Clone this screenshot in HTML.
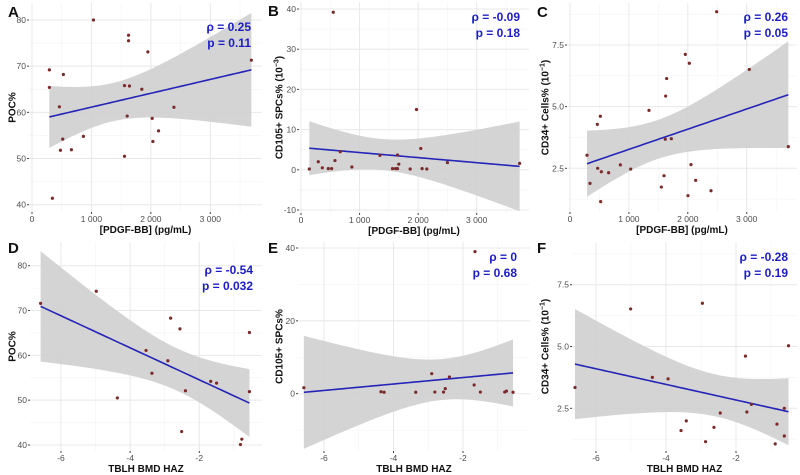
<!DOCTYPE html>
<html><head><meta charset="utf-8">
<style>
html,body{margin:0;padding:0;background:#fff;}
svg{display:block;font-family:"Liberation Sans",Arial,sans-serif;}
.tick{font-size:8.5px;fill:#4d4d4d;}
.ttl{font-size:10px;font-weight:bold;fill:#111;}
.ann{font-size:12px;font-weight:bold;fill:#1c1cc4;}
.lbl{font-size:15px;font-weight:bold;fill:#111;}
</style></head>
<body>
<svg id="fig" width="800" height="475" viewBox="0 0 800 475" xmlns="http://www.w3.org/2000/svg"></svg>
<script>
// Panel A: PDGF-BB vs POC%
const aX=[1034,1624,1624,1949,3691,292,528,292,1556,1640,1848,461,2388,1601,2022,2129,517,865,2034,478,663,1556,343];
const aY=[80,76.7,75.5,73.1,71.3,69.2,68.2,65.4,65.8,65.7,65.0,61.2,61.1,59.2,58.7,56.0,54.2,54.8,53.7,51.8,51.9,50.5,41.4];
// Panel B: PDGF-BB vs CD105+ SPCs%
const bX=[551,1972,670,2045,1648,1347,295,580,364,142,466,523,869,1670,1562,1614,1648,1864,2068,2148,2500,3733];
const bY=[39.2,15.0,4.5,5.3,3.7,3.6,2.0,2.3,0.5,0.2,0.3,0.3,0.7,1.4,0.3,0.3,0.3,0.2,0.3,0.2,1.8,1.6];
// Panel C: PDGF-BB vs CD34+ cells%
const cX=[2490,1958,2026,3044,1641,1624,1341,515,464,1618,1720,3707,289,2054,855,470,1030,532,656,1596,2134,340,1551,2394,2003,521];
const cY=[8.85,7.12,6.76,6.51,6.14,5.43,4.85,4.61,4.28,3.68,3.70,3.38,3.03,2.65,2.64,2.5,2.47,2.36,2.32,2.20,2.01,1.89,1.74,1.59,1.39,1.15];
// Panel D: TBLH BMD HAZ vs POC%
const dX=[-6.59,-4.98,-2.83,-2.56,-0.55,-3.54,-2.91,-3.37,-1.67,-1.50,-2.40,-0.55,-4.37,-2.51,-0.77,-0.81];
const dY=[71.6,74.3,68.3,65.9,65.1,61.1,58.8,56.0,54.2,53.8,52.1,51.9,50.5,43.0,41.3,40.1];
// Panel E: TBLH BMD HAZ vs CD105+ SPCs%
const eX=[-1.655,-6.58,-4.36,-4.27,-3.36,-2.90,-2.81,-2.56,-2.51,-2.39,-1.68,-1.50,-0.80,-0.75,-0.56];
const eY=[39.0,1.65,0.55,0.4,0.4,5.5,0.45,0.45,1.4,4.6,2.4,0.45,0.45,0.7,0.4];
// Panel F: TBLH BMD HAZ vs CD34+ cells%
const fX=[-6.6,-5.01,-2.96,-0.50,-1.73,-4.39,-3.94,-1.56,-0.62,-2.45,-1.69,-3.42,-0.83,-2.63,-3.57,-0.62,-2.87,-0.88];
const fY=[3.34,6.52,6.75,5.03,4.61,3.75,3.69,2.66,2.5,2.31,2.35,1.99,1.86,1.73,1.60,1.38,1.15,1.06];
// Tick labels
const pdgfTicks=[0,1000,2000,3000];
const pdgfTickLabels=["0","1 000","2 000","3 000"];
const hazTicks=[-6,-4,-2];
const hazTickLabels=["-6","-4","-2"];
const pocTicks=[40,50,60,70,80];
const cd105bTicks=[-10,0,10,20,30,40];
const cd105eTicks=[0,20,40];
const cd34Ticks=[2.5,5.0,7.5];
const cd34TickLabels=["2.5","5.0","7.5"];
const rhoLabels=["ρ = 0.25","ρ = -0.09","ρ = 0.26","ρ = -0.54","ρ = 0","ρ = -0.28"];
const pLabels=["p = 0.11","p = 0.18","p = 0.05","p = 0.032","p = 0.68","p = 0.19"];

const NS="http://www.w3.org/2000/svg";
const svg=document.getElementById('fig');
function mk(tag,attrs,parent){const e=document.createElementNS(NS,tag);for(const k in attrs)e.setAttribute(k,attrs[k]);(parent||svg).appendChild(e);return e;}
function lin(d0,p0,d1,p1){return v=>p0+(v-d0)*(p1-p0)/(d1-d0);}
function tcrit(df){return 1.96+2.4/df+1.8/(df*df);}

const panels=[
 {id:'a',L:'A',lx:8,ly:17,X:aX,Y:aY,rect:[29,262,3,212],sx:lin(0,32,3000,210.3),sy:lin(80,20,40,204.7),
  xt:pdgfTicks,xl:pdgfTickLabels,xm:[500,1500,2500,3500],yt:pocTicks,yl:pocTicks.map(String),ym:[45,55,65,75],
  xt_title:'[PDGF-BB] (pg/mL)',yt_title:'POC%',sup:null,ytx:12,ar:251,ay:27},
 {id:'b',L:'B',lx:268,ly:16,X:bX,Y:bY,rect:[299,529,2,213],sx:lin(0,301,3000,476.7),sy:lin(40,9,-10,210),
  xt:pdgfTicks,xl:pdgfTickLabels,xm:[500,1500,2500,3500],yt:cd105bTicks,yl:cd105bTicks.map(String),ym:[-5,5,15,25,35],
  xt_title:'[PDGF-BB] (pg/mL)',yt_title:'CD105+ SPCs% (10',sup:'−3',ytx:279,ar:520,ay:17},
 {id:'c',L:'C',lx:537,ly:17,X:cX,Y:cY,rect:[567,797,3,212],sx:lin(0,570,3000,746.7),sy:lin(7.5,45,2.5,168.3),
  xt:pdgfTicks,xl:pdgfTickLabels,xm:[500,1500,2500,3500],yt:cd34Ticks,yl:cd34TickLabels,ym:[1.25,3.75,6.25,8.75],
  xt_title:'[PDGF-BB] (pg/mL)',yt_title:'CD34+ Cells% (10',sup:'−1',ytx:545,ar:788,ay:17},
 {id:'d',L:'D',lx:8,ly:253,X:dX,Y:dY,rect:[30,262,242,451],sx:lin(-6,61,-2,199.3),sy:lin(80,265.7,40,445),
  xt:hazTicks,xl:hazTickLabels,xm:[-7,-5,-3,-1],yt:pocTicks,yl:pocTicks.map(String),ym:[45,55,65,75],
  xt_title:'TBLH BMD HAZ',yt_title:'POC%',sup:null,ytx:12,ar:253,ay:270},
 {id:'e',L:'E',lx:268,ly:253,X:eX,Y:eY,rect:[298,530,242,451],sx:lin(-6,324,-2,463),sy:lin(40,248,0,393.7),
  xt:hazTicks,xl:hazTickLabels,xm:[-7,-5,-3,-1],yt:cd105eTicks,yl:cd105eTicks.map(String),ym:[-10,10,30],
  xt_title:'TBLH BMD HAZ',yt_title:'CD105+ SPCs%',sup:null,ytx:279,ar:517,ay:257},
 {id:'f',L:'F',lx:537,ly:253,X:fX,Y:fY,rect:[572,797,242,451],sx:lin(-6,596,-2,736),sy:lin(7.5,284.7,2.5,408.3),
  xt:hazTicks,xl:hazTickLabels,xm:[-7,-5,-3,-1],yt:cd34Ticks,yl:cd34TickLabels,ym:[1.25,3.75,6.25,8.75],
  xt_title:'TBLH BMD HAZ',yt_title:'CD34+ Cells% (10',sup:'−1',ytx:545,ar:788,ay:257}
];

panels.forEach((P,pi)=>{
  const [x0,x1,y0,y1]=P.rect;
  const g=mk('g',{});
  
  
  const cid='clip'+P.id;
  const cp=mk('clipPath',{id:cid},g);mk('rect',{x:x0,y:y0,width:x1-x0,height:y1-y0},cp);
  P.xm.forEach(v=>{const x=P.sx(v);if(x>x0&&x<x1)mk('line',{x1:x,x2:x,y1:y0,y2:y1,stroke:'#f3f3f3','stroke-width':0.6},g);});
  P.ym.forEach(v=>{const y=P.sy(v);if(y>y0&&y<y1)mk('line',{x1:x0,x2:x1,y1:y,y2:y,stroke:'#f3f3f3','stroke-width':0.6},g);});
  P.xt.forEach((v,i)=>{const x=P.sx(v);
    const gl=mk('line',{x1:x,x2:x,y1:y0,y2:y1,stroke:'#e8e8e8','stroke-width':1},g);
    
    
    mk('line',{x1:x,x2:x,y1:y1,y2:y1+2,stroke:'#444','stroke-width':1},g);
    const t=mk('text',{x:x,y:y1+10,'text-anchor':'middle',class:'tick'},g);t.textContent=P.xl[i];
    
    
  });
  P.yt.forEach((v,i)=>{const y=P.sy(v);
    const gl=mk('line',{x1:x0,x2:x1,y1:y,y2:y,stroke:'#e8e8e8','stroke-width':1},g);
    
    
    mk('line',{x1:x0-2,x2:x0,y1:y,y2:y,stroke:'#444','stroke-width':1},g);
    const t=mk('text',{x:x0-3,y:y+3,'text-anchor':'end',class:'tick'},g);t.textContent=P.yl[i];
    
    
  });
  const n=P.X.length;
  const mx=P.X.reduce((a,b)=>a+b,0)/n, my=P.Y.reduce((a,b)=>a+b,0)/n;
  let sxx=0,sxy=0;for(let i=0;i<n;i++){sxx+=(P.X[i]-mx)**2;sxy+=(P.X[i]-mx)*(P.Y[i]-my);}
  const b=sxy/sxx, a=my-b*mx;
  let sse=0;for(let i=0;i<n;i++){sse+=(P.Y[i]-a-b*P.X[i])**2;}
  const s=Math.sqrt(sse/(n-2)), tc=tcrit(n-2);
  const xmin=Math.min(...P.X), xmax=Math.max(...P.X);
  const up=[],lo=[],ln=[];
  for(let k=0;k<=60;k++){const xv=xmin+(xmax-xmin)*k/60;const f=a+b*xv;
    const se=s*Math.sqrt(1/n+(xv-mx)**2/sxx);
    up.push(P.sx(xv).toFixed(2)+','+P.sy(f+tc*se).toFixed(2));
    lo.push(P.sx(xv).toFixed(2)+','+P.sy(f-tc*se).toFixed(2));
    ln.push(P.sx(xv).toFixed(2)+','+P.sy(f).toFixed(2));}
  const band=mk('polygon',{points:up.concat(lo.reverse()).join(' '),fill:'#cfcfcf','fill-opacity':0.9,'clip-path':'url(#'+cid+')'},g);
  
  
  const rl=mk('polyline',{points:ln.join(' '),fill:'none',stroke:'#2424b8','stroke-width':1.6,'clip-path':'url(#'+cid+')'},g);
  
  
  for(let i=0;i<n;i++){
    const c=mk('circle',{cx:P.sx(P.X[i]),cy:P.sy(P.Y[i]),r:1.6,fill:'#7a2a2a'},g);
    
    
  }
  const xtt=mk('text',{x:(x0+x1)/2,y:y1+21,'text-anchor':'middle',class:'ttl'},g);xtt.textContent=P.xt_title;
  
  
  const cy=(y0+y1)/2;
  const ytt=mk('text',{x:P.ytx,y:cy,'text-anchor':'middle',class:'ttl',transform:'rotate(-90 '+P.ytx+' '+cy+')',dy:'0.35em'},g);
  ytt.textContent=P.yt_title;
  if(P.sup){const ts=mk('tspan',{dy:'-4','font-size':'7px'},ytt);ts.textContent=P.sup;const t2=mk('tspan',{dy:'4'},ytt);t2.textContent=')';}
  
  
  const r=mk('text',{x:P.ar,y:P.ay+4,'text-anchor':'end',class:'ann'},g);r.textContent=rhoLabels[pi];
  
  
  const p=mk('text',{x:P.ar,y:P.ay+20,'text-anchor':'end',class:'ann'},g);p.textContent=pLabels[pi];
  
  
  const L=mk('text',{x:P.lx,y:P.ly,class:'lbl'},g);L.textContent=P.L;
  
  
});
</script>
</body></html>
